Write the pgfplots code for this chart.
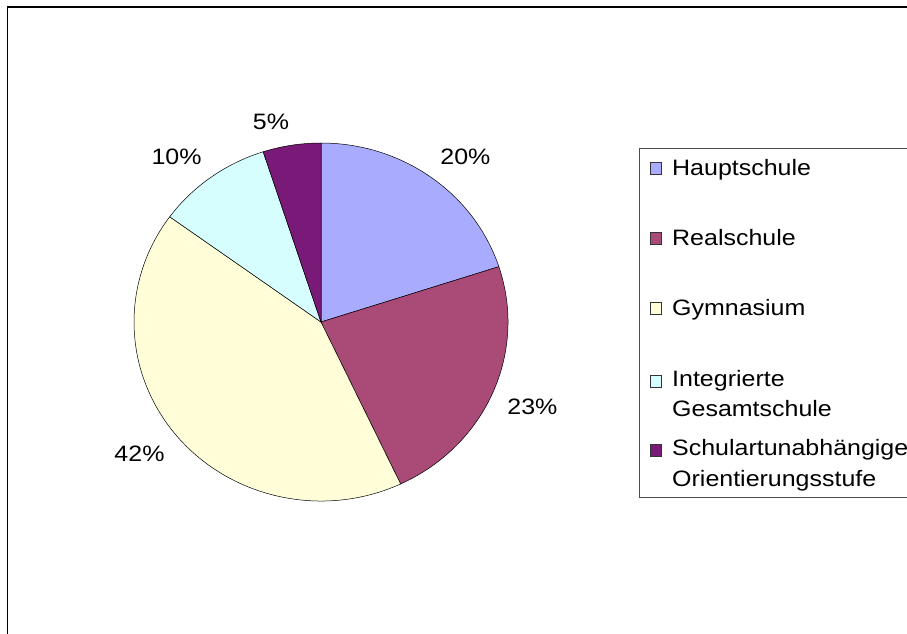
\documentclass[border=0pt]{standalone}
\usepackage{fontspec}
\setmainfont{Liberation Sans}[FakeStretch=1.12]
\usepackage{pgfplots}
\usepackage{pgfplotstable}
\pgfplotsset{compat=1.18}

\definecolor{hauptc}{HTML}{A9ABFE}
\definecolor{realc}{HTML}{A94A77}
\definecolor{gymc}{HTML}{FFFED9}
\definecolor{igsc}{HTML}{D6FEFF}
\definecolor{orc}{HTML}{7A1A78}

% share of pupils per school type, clockwise from 12 o'clock
\pgfplotstableread{
name value color
Hauptschule 20 hauptc
Realschule 23 realc
Gymnasium 42 gymc
Integrierte 10 igsc
Orientierungsstufe 5 orc
}\piedata

\begin{document}
\begin{tikzpicture}[every node/.style={font=\fontsize{22.3pt}{26.8pt}\selectfont}]
\useasboundingbox (0,0) rectangle (907pt,633pt);
\begin{axis}[
  at={(0pt,0pt)}, anchor=south west,
  scale only axis, width=907pt, height=633pt,
  xmin=0, xmax=907, ymin=0, ymax=633,
  hide axis, clip=false,
]
% chart frame
\draw[black, line width=1.6pt] (axis cs:7.3,-20) -- (axis cs:7.3,625.7) -- (axis cs:930,625.7);

% pie slices and percentage labels (label corner sits just outside the rim)
\def\astart{90}
\pgfplotsforeachungrouped \i in {0,...,4}{%
  \pgfplotstablegetelem{\i}{value}\of\piedata \let\v\pgfplotsretval
  \pgfplotstablegetelem{\i}{color}\of\piedata \let\c\pgfplotsretval
  \pgfmathsetmacro\aend{\astart-3.6*\v}
  \pgfmathsetmacro\amid{(\astart+\aend)/2}
  \pgfmathsetmacro\xs{321+187*cos(\astart)}
  \pgfmathsetmacro\ys{311+179*sin(\astart)}
  \pgfmathsetmacro\cm{cos(\amid)}
  \pgfmathsetmacro\sm{sin(\amid)}
  \pgfmathsetmacro\xl{321+1.085*187*\cm}
  \pgfmathsetmacro\yl{311+1.085*179*\sm}
  \ifdim\sm pt>0pt \def\va{south}\else\def\va{north}\fi
  \ifdim\cm pt>0pt \def\ha{west}\else\def\ha{east}\fi
  \edef\temp{%
    \noexpand\filldraw[fill=\c, draw=black, line width=0.5pt] (axis cs:321,311) -- (axis cs:\xs,\ys)
      arc[start angle=\astart, end angle=\aend, x radius=187pt, y radius=179pt] -- cycle;
    \noexpand\node[anchor=\va\space\ha, inner sep=0pt] at (axis cs:\xl,\yl) {\v\noexpand\%};
  }\temp
  \let\astart\aend
}

% legend
\draw[black!70, line width=0.8pt] (axis cs:930,485) -- (axis cs:639.3,485) -- (axis cs:639.3,135.5) -- (axis cs:930,135.5);
\filldraw[fill=hauptc, draw=black!80, line width=0.5pt] (axis cs:650,459.2) rectangle (axis cs:661.5,470.7);
\filldraw[fill=realc, draw=black!80, line width=0.5pt] (axis cs:650,389.2) rectangle (axis cs:661.5,400.7);
\filldraw[fill=gymc, draw=black!80, line width=0.5pt] (axis cs:650,319.2) rectangle (axis cs:661.5,330.7);
\filldraw[fill=igsc, draw=black!80, line width=0.5pt] (axis cs:650,246.2) rectangle (axis cs:661.5,257.7);
\filldraw[fill=orc, draw=black!80, line width=0.5pt] (axis cs:650,177.2) rectangle (axis cs:661.5,188.7);
\node[anchor=base west, inner sep=0pt] at (axis cs:672,457) {Hauptschule};
\node[anchor=base west, inner sep=0pt] at (axis cs:672,387.5) {Realschule};
\node[anchor=base west, inner sep=0pt] at (axis cs:672,318) {Gymnasium};
\node[anchor=base west, inner sep=0pt] at (axis cs:672,246.3) {Integrierte};
\node[anchor=base west, inner sep=0pt] at (axis cs:672,216.3) {Gesamtschule};
\node[anchor=base west, inner sep=0pt] at (axis cs:672,178) {Schulartunabhängige};
\node[anchor=base west, inner sep=0pt] at (axis cs:672,147) {Orientierungsstufe};
\end{axis}
\end{tikzpicture}
\end{document}
